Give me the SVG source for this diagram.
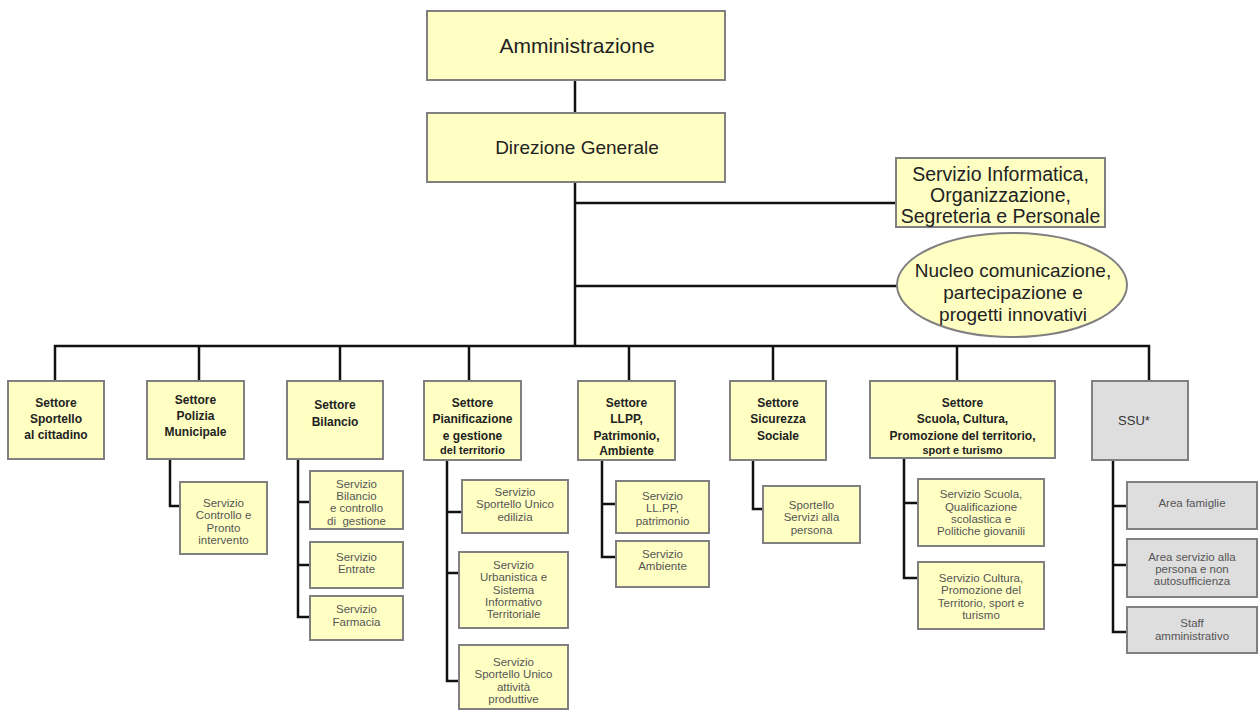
<svg xmlns="http://www.w3.org/2000/svg" width="1259" height="713" viewBox="0 0 1259 713">
<style>
.box{fill:#FFFFC4;stroke:#808080;stroke-width:2}
.gbox{fill:#DEDEDE;stroke:#808080;stroke-width:2}
.conn{stroke:#111;stroke-width:2.5;fill:none}
text{font-family:"Liberation Sans",Arial,sans-serif;text-anchor:middle}
.top{font-size:19px;fill:#222}
.sec{font-size:12px;font-weight:bold;fill:#222}
.sm{font-size:11px;font-weight:bold;fill:#222}
.srv{font-size:11.5px;fill:#555}
</style>
<rect width="1259" height="713" fill="#fff"/>
<g id="connectors">
<path class="conn" d="M575,80 V113"/>
<path class="conn" d="M575,182 V346"/>
<path class="conn" d="M575,203 H896"/>
<path class="conn" d="M575,286 H897"/>
<path class="conn" d="M55,381 V346 H1149 V381"/>
<path class="conn" d="M199,346 V381 M340,346 V381 M469,346 V381 M629,346 V381 M773,346 V381 M957,346 V381"/>
<path class="conn" d="M170,459 V506 H180"/>
<path class="conn" d="M298,459 V617 H310 M298,502 H310 M298,565 H310"/>
<path class="conn" d="M447,460 V681 H459 M447,512 H462 M447,573 H459"/>
<path class="conn" d="M602,460 V557 H616 M602,504 H616"/>
<path class="conn" d="M753,460 V509 H763"/>
<path class="conn" d="M904,458 V578 H918 M904,503 H918"/>
<path class="conn" d="M1113,460 V632 H1127 M1113,506 H1127 M1113,565 H1127"/>
</g>
<g id="amministrazione">
<rect class="box" x="427" y="11" width="298" height="69"/>
<text class="top" x="577" y="53" style="font-size:21px">Amministrazione</text>
</g>
<g id="direzione">
<rect class="box" x="427" y="113" width="298" height="69"/>
<text class="top" x="577" y="154">Direzione Generale</text>
</g>
<g id="servizio-informatica">
<rect class="box" x="896" y="158" width="209" height="69"/>
<text class="top" style="font-size:19.5px"><tspan x="1000.5" y="181">Servizio Informatica,</tspan><tspan x="1000.5" y="202">Organizzazione,</tspan><tspan x="1000.5" y="223">Segreteria e Personale</tspan></text>
</g>
<g id="nucleo">
<ellipse class="box" cx="1012" cy="285" rx="115" ry="52"/>
<text class="top"><tspan x="1013" y="277">Nucleo comunicazione,</tspan><tspan x="1013" y="299">partecipazione e</tspan><tspan x="1013" y="321">progetti innovativi</tspan></text>
</g>
<g id="settore-sportello">
<rect class="box" x="8" y="381" width="96" height="78"/>
<text class="sec"><tspan x="56" y="407">Settore</tspan><tspan x="56" y="423">Sportello</tspan><tspan x="56" y="439">al cittadino</tspan></text>
</g>
<g id="settore-polizia">
<rect class="box" x="147" y="381" width="97" height="78"/>
<text class="sec"><tspan x="195.5" y="404">Settore</tspan><tspan x="195.5" y="420">Polizia</tspan><tspan x="195.5" y="436">Municipale</tspan></text>
</g>
<g id="servizio-controllo">
<rect class="box" x="180" y="482" width="87" height="72"/>
<text class="srv"><tspan x="223.5" y="507">Servizio</tspan><tspan x="223.5" y="519">Controllo e</tspan><tspan x="223.5" y="532">Pronto</tspan><tspan x="223.5" y="544">intervento</tspan></text>
</g>
<g id="settore-bilancio">
<rect class="box" x="287" y="381" width="96" height="78"/>
<text class="sec"><tspan x="335" y="409">Settore</tspan><tspan x="335" y="426">Bilancio</tspan></text>
</g>
<g id="servizio-bilancio">
<rect class="box" x="310" y="471" width="93" height="58"/>
<text class="srv"><tspan x="356.5" y="488">Servizio</tspan><tspan x="356.5" y="500">Bilancio</tspan><tspan x="356.5" y="512">e controllo</tspan><tspan x="356.5" y="525">di&#160; gestione</tspan></text>
</g>
<g id="servizio-entrate">
<rect class="box" x="310" y="542" width="93" height="46"/>
<text class="srv"><tspan x="356.5" y="561">Servizio</tspan><tspan x="356.5" y="573">Entrate</tspan></text>
</g>
<g id="servizio-farmacia">
<rect class="box" x="310" y="596" width="93" height="44"/>
<text class="srv"><tspan x="356.5" y="613">Servizio</tspan><tspan x="356.5" y="626">Farmacia</tspan></text>
</g>
<g id="settore-pianificazione">
<rect class="box" x="424" y="381" width="97" height="79"/>
<text class="sec"><tspan x="472.5" y="407">Settore</tspan><tspan x="472.5" y="423">Pianificazione</tspan><tspan x="472.5" y="440">e gestione</tspan><tspan class="sm" x="472.5" y="454">del territorio</tspan></text>
</g>
<g id="servizio-sue">
<rect class="box" x="462" y="480" width="106" height="53"/>
<text class="srv"><tspan x="515" y="496">Servizio</tspan><tspan x="515" y="508">Sportello Unico</tspan><tspan x="515" y="521">edilizia</tspan></text>
</g>
<g id="servizio-urbanistica">
<rect class="box" x="459" y="552" width="109" height="76"/>
<text class="srv"><tspan x="513.5" y="569">Servizio</tspan><tspan x="513.5" y="581">Urbanistica e</tspan><tspan x="513.5" y="594">Sistema</tspan><tspan x="513.5" y="606">Informativo</tspan><tspan x="513.5" y="618">Territoriale</tspan></text>
</g>
<g id="servizio-suap">
<rect class="box" x="459" y="645" width="109" height="64"/>
<text class="srv"><tspan x="513.5" y="666">Servizio</tspan><tspan x="513.5" y="678">Sportello Unico</tspan><tspan x="513.5" y="691">attività</tspan><tspan x="513.5" y="703">produttive</tspan></text>
</g>
<g id="settore-llpp">
<rect class="box" x="578" y="381" width="97" height="79"/>
<text class="sec"><tspan x="626.5" y="407">Settore</tspan><tspan x="626.5" y="423">LLPP,</tspan><tspan x="626.5" y="440">Patrimonio,</tspan><tspan x="626.5" y="455">Ambiente</tspan></text>
</g>
<g id="servizio-llpp">
<rect class="box" x="616" y="481" width="93" height="52"/>
<text class="srv"><tspan x="662.5" y="500">Servizio</tspan><tspan x="662.5" y="512">LL.PP,</tspan><tspan x="662.5" y="525">patrimonio</tspan></text>
</g>
<g id="servizio-ambiente">
<rect class="box" x="616" y="541" width="93" height="46"/>
<text class="srv"><tspan x="662.5" y="558">Servizio</tspan><tspan x="662.5" y="570">Ambiente</tspan></text>
</g>
<g id="settore-sicurezza">
<rect class="box" x="730" y="381" width="96" height="79"/>
<text class="sec"><tspan x="778" y="407">Settore</tspan><tspan x="778" y="423">Sicurezza</tspan><tspan x="778" y="440">Sociale</tspan></text>
</g>
<g id="sportello-servizi">
<rect class="box" x="763" y="486" width="97" height="57"/>
<text class="srv"><tspan x="811.5" y="509">Sportello</tspan><tspan x="811.5" y="521">Servizi alla</tspan><tspan x="811.5" y="534">persona</tspan></text>
</g>
<g id="settore-scuola">
<rect class="box" x="870" y="381" width="185" height="77"/>
<text class="sec"><tspan x="962.5" y="407">Settore</tspan><tspan x="962.5" y="423">Scuola, Cultura,</tspan><tspan x="962.5" y="440">Promozione del territorio,</tspan><tspan class="sm" x="962.5" y="454">sport e turismo</tspan></text>
</g>
<g id="servizio-scuola">
<rect class="box" x="918" y="479" width="126" height="67"/>
<text class="srv"><tspan x="981" y="498">Servizio Scuola,</tspan><tspan x="981" y="511">Qualificazione</tspan><tspan x="981" y="523">scolastica e</tspan><tspan x="981" y="535">Politiche giovanili</tspan></text>
</g>
<g id="servizio-cultura">
<rect class="box" x="918" y="562" width="126" height="67"/>
<text class="srv"><tspan x="981" y="582">Servizio Cultura,</tspan><tspan x="981" y="594">Promozione del</tspan><tspan x="981" y="607">Territorio, sport e</tspan><tspan x="981" y="619">turismo</tspan></text>
</g>
<g id="ssu">
<rect class="gbox" x="1092" y="381" width="96" height="79"/>
<text x="1134" y="425" style="font-size:13px;fill:#333">SSU*</text>
</g>
<g id="area-famiglie">
<rect class="gbox" x="1127" y="482" width="130" height="47"/>
<text class="srv" x="1192" y="507">Area famiglie</text>
</g>
<g id="area-servizio">
<rect class="gbox" x="1127" y="539" width="130" height="58"/>
<text class="srv"><tspan x="1192" y="561">Area servizio alla</tspan><tspan x="1192" y="573">persona e non</tspan><tspan x="1192" y="585">autosufficienza</tspan></text>
</g>
<g id="staff">
<rect class="gbox" x="1127" y="607" width="130" height="46"/>
<text class="srv"><tspan x="1192" y="627">Staff</tspan><tspan x="1192" y="640">amministrativo</tspan></text>
</g>
</svg>
